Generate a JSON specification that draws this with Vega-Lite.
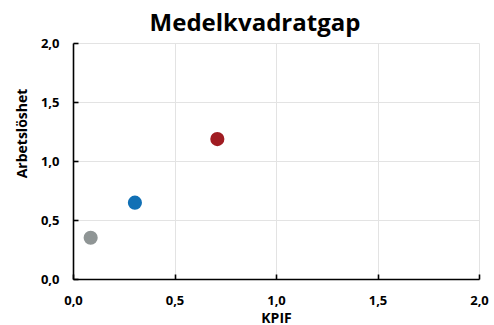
{
  "$schema": "https://vega.github.io/schema/vega-lite/v6.json",
  "autosize": "none",
  "width": 406,
  "height": 236,
  "padding": {"left": 73, "top": 43, "right": 15, "bottom": 46},
  "background": "white",
  "title": {
    "text": "Medelkvadratgap",
    "font": "Open Sans",
    "fontSize": 24,
    "fontWeight": "bold",
    "color": "#000000",
    "anchor": "middle",
    "baseline": "alphabetic",
    "offset": 11,
    "dx": -21,
    "dy": 29
  },
  "data": {
    "values": [
      {"serie": "s1", "kpif": 0.087, "arbetsloshet": 0.35},
      {"serie": "s2", "kpif": 0.305, "arbetsloshet": 0.647},
      {"serie": "s3", "kpif": 0.711, "arbetsloshet": 1.186}
    ]
  },
  "mark": {"type": "circle", "size": 200, "opacity": 1},
  "encoding": {
    "x": {
      "field": "kpif",
      "type": "quantitative",
      "scale": {"domain": [0, 2], "nice": false, "zero": true},
      "axis": {
        "title": "KPIF",
        "values": [0, 0.5, 1, 1.5, 2],
        "labelExpr": "replace(format(datum.value, '.1f'), '.', ',')",
        "labelFlush": false,
        "tickSize": -5,
        "labelPadding": 20,
        "titleY": 43,
        "titleBaseline": "alphabetic"
      }
    },
    "y": {
      "field": "arbetsloshet",
      "type": "quantitative",
      "scale": {"domain": [0, 2], "nice": false, "zero": true},
      "axis": {
        "title": "Arbetslöshet",
        "values": [0, 0.5, 1, 1.5, 2],
        "labelExpr": "replace(format(datum.value, '.1f'), '.', ',')",
        "labelFlush": false,
        "tickSize": -5,
        "labelPadding": 19,
        "titleX": -51,
        "titleY": 90,
        "titleBaseline": "middle",
        "titleAngle": -90
      }
    },
    "color": {
      "field": "serie",
      "type": "nominal",
      "scale": {"domain": ["s1", "s2", "s3"], "range": ["#8f9595", "#1170b5", "#a01c22"]},
      "legend": null
    }
  },
  "config": {
    "view": {"stroke": null},
    "axis": {
      "domainColor": "#000000",
      "domainWidth": 1.6,
      "tickColor": "#000000",
      "tickWidth": 1.6,
      "gridColor": "#e3e3e3",
      "gridWidth": 1,
      "labelFont": "Open Sans",
      "labelFontSize": 13,
      "labelFontWeight": "bold",
      "labelColor": "#000000",
      "titleFont": "Open Sans",
      "titleFontSize": 14,
      "titleFontWeight": "bold",
      "titleColor": "#000000"
    }
  }
}
